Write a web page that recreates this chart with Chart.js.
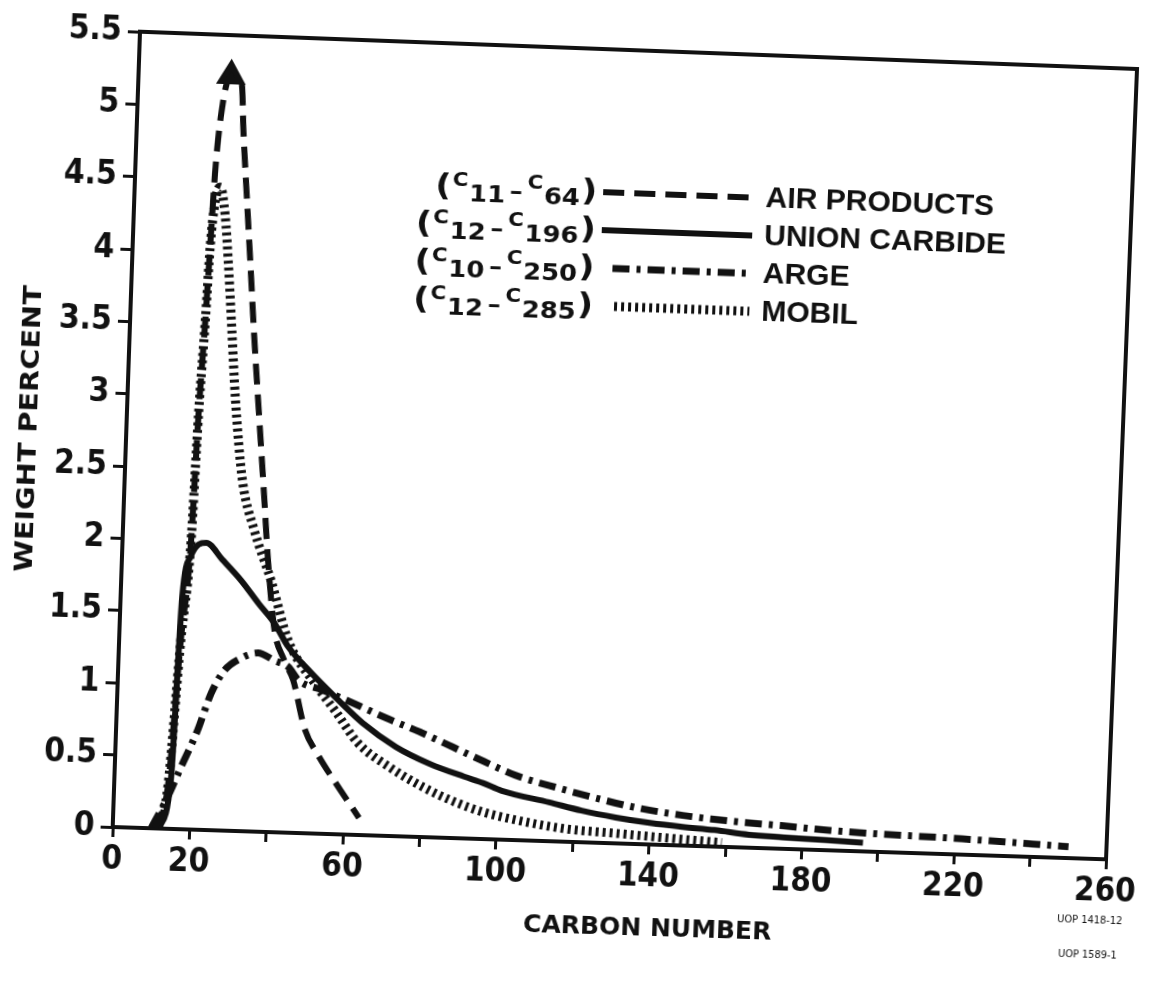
<!DOCTYPE html>
<html>
<head>
<meta charset="utf-8">
<title>Weight percent by carbon number</title>
<script src="https://cdn.jsdelivr.net/npm/chart.js@4.4.1/dist/chart.umd.min.js"></script>
<style>
    html, body { margin: 0; padding: 0; background: #fff; overflow: hidden; }
    #chart { position: absolute; left: 0; top: 0; transform-origin: 0 0; }
</style>
</head>
<body>
<canvas id="chart" width="1152" height="988"></canvas>
<script>
// Series data (carbon number, weight percent)
const apX = [11, 14, 16, 17.8, 18.6, 19.5, 20.1, 20.7, 22.1, 24, 26.8, 27.7, 29.2, 30.7, 32.2, 34.3, 36.4, 37.9, 40.3, 43, 45.6, 49.1, 52.9, 57.5, 64];
const apY = [0, 0.3, 1.3, 2.0, 2.88, 3.52, 4.03, 4.54, 5.03, 5.22, 5.17, 4.84, 4.38, 3.93, 3.47, 2.89, 2.32, 1.9, 1.4, 1.2, 1.06, 0.72, 0.54, 0.36, 0.12];

const ucX = [12, 14.7, 16, 17.8, 21.8, 26, 31.1, 36, 40.2, 44, 50, 57.6, 64, 73, 82, 91, 96, 101, 113.5, 122, 131, 140, 148.6, 157, 166, 175, 186, 196];
const ucY = [0, 0.34, 1.61, 1.89, 1.99, 1.88, 1.74, 1.58, 1.45, 1.29, 1.12, 0.93, 0.78, 0.62, 0.51, 0.43, 0.39, 0.34, 0.27, 0.22, 0.18, 0.15, 0.13, 0.115, 0.09, 0.08, 0.07, 0.06];

const arX = [10, 14, 17.2, 21.2, 24.4, 27.6, 31.9, 36.2, 40.6, 44.2, 47, 53, 60, 70, 79, 88, 96, 104.5, 116, 125.7, 137, 148.5, 161.6, 175, 183.5, 195, 222, 250];
const arY = [0, 0.22, 0.43, 0.69, 0.95, 1.11, 1.2, 1.24, 1.19, 1.15, 1.06, 1.0, 0.93, 0.82, 0.73, 0.63, 0.54, 0.45, 0.37, 0.31, 0.25, 0.21, 0.18, 0.16, 0.145, 0.13, 0.11, 0.08];

const moX = [12, 14, 16, 17.8, 18.6, 19.5, 20.1, 21, 22.2, 23.7, 25, 26.5, 28, 30.6, 34.1, 39, 44, 51.3, 57, 63, 72, 81, 89, 96, 105, 118, 131, 144, 159];
const moY = [0, 0.3, 1.3, 2.0, 2.88, 3.52, 4.03, 4.35, 4.45, 4.26, 3.92, 3.46, 3.0, 2.43, 2.09, 1.74, 1.33, 1.04, 0.85, 0.64, 0.47, 0.34, 0.25, 0.19, 0.14, 0.09, 0.07, 0.05, 0.03];

const seriesNames = ['AIR PRODUCTS', 'UNION CARBIDE', 'ARGE', 'MOBIL'];
const seriesRanges = [['11', '64'], ['12', '196'], ['10', '250'], ['12', '285']];

// Axis ticks
const xTickValues = [0, 20, 40, 60, 80, 100, 120, 140, 160, 180, 200, 220, 240, 260];
const xTickLabels = [0, 20, 60, 100, 140, 180, 220, 260];
const yTickValues = [0, 0.5, 1, 1.5, 2, 2.5, 3, 3.5, 4, 4.5, 5, 5.5];

const INK = '#111';
const NARROW = '"Liberation Sans Narrow", "DejaVu Sans Condensed", sans-serif';

function toPoints(xs, ys) {
    return xs.map((x, i) => ({ x: x, y: ys[i] }));
}

const apPeak = apY.indexOf(Math.max(...apY));

// "(C11 - C64)" style range label, right aligned
function drawRange(ctx, xRight, yMid, range) {
    const parts = [
        ['(', 31, 9, 0],
        ['C', 19, -1, 1],
        [range[0], 23, 14, 1],
        ['\u2013', 23, 10, 4],
        ['C', 19, -1, 4],
        [range[1], 23, 14, 1],
        [')', 31, 9, 1]
    ];
    const widths = parts.map(p => {
        ctx.font = 'bold ' + p[1] + 'px "DejaVu Sans"';
        return ctx.measureText(p[0]).width;
    });
    let total = 0;
    parts.forEach((p, i) => { total += widths[i] + p[3]; });
    const sx = 1.12;
    ctx.save();
    ctx.translate(xRight - total * sx, 0);
    ctx.scale(sx, 1);
    ctx.textAlign = 'left';
    ctx.textBaseline = 'alphabetic';
    let x = 0;
    parts.forEach((p, i) => {
        x += p[3];
        ctx.font = 'bold ' + p[1] + 'px "DejaVu Sans"';
        ctx.fillText(p[0], x, yMid + p[2]);
        x += widths[i];
    });
    ctx.restore();
}

// Legend, axis titles and page stamps
const annotations = {
    id: 'annotations',
    afterDraw(chart) {
        const ctx = chart.ctx;
        const area = chart.chartArea;
        ctx.save();
        ctx.fillStyle = INK;
        ctx.strokeStyle = INK;

        const rowHeights = [653, 615, 577, 539];
        const lineStarts = [465, 465, 477, 480];
        chart.data.datasets.forEach((ds, i) => {
            const y = area.bottom - rowHeights[i];
            drawRange(ctx, area.left + 459, y, seriesRanges[i]);
            ctx.save();
            ctx.lineWidth = ds.borderWidth;
            ctx.setLineDash(ds.borderDash || []);
            ctx.lineCap = 'butt';
            ctx.beginPath();
            ctx.moveTo(area.left + lineStarts[i], y);
            ctx.lineTo(area.left + 615, y);
            ctx.stroke();
            ctx.restore();
            ctx.font = 'bold 30px "Liberation Sans", Arial, sans-serif';
            ctx.textAlign = 'left';
            ctx.textBaseline = 'middle';
            ctx.fillText(ds.label, area.left + 627, y + 1);
        });

        ctx.font = 'bold 25px "DejaVu Sans"';
        ctx.textAlign = 'center';
        ctx.textBaseline = 'middle';
        ctx.fillText('CARBON NUMBER', area.left + 536, area.bottom + 85);

        ctx.save();
        ctx.translate(area.left - 96, area.bottom - 396);
        ctx.rotate(-Math.PI / 2);
        ctx.scale(1.15, 1);
        ctx.fillText('WEIGHT PERCENT', 0, 0);
        ctx.restore();

        ctx.font = '11px ' + NARROW;
        ctx.fillText('UOP 1418-12', area.left + 979, area.bottom + 62);
        ctx.fillText('UOP 1589-1', area.left + 978, area.bottom + 97);
        ctx.restore();
    }
};

const lineStyle = {
    borderColor: INK,
    borderCapStyle: 'butt',
    pointRadius: 0,
    fill: false,
    cubicInterpolationMode: 'monotone'
};

const ctx = document.getElementById('chart').getContext('2d');
const chart = new Chart(ctx, {
    type: 'line',
    data: {
        datasets: [
            Object.assign({}, lineStyle, {
                label: seriesNames[0],
                data: toPoints(apX, apY),
                borderWidth: 6,
                borderDash: [21, 10],
                pointRadius: apY.map((v, i) => i === apPeak ? 11 : 0),
                pointStyle: 'triangle',
                pointBackgroundColor: INK,
                pointBorderColor: INK
            }),
            Object.assign({}, lineStyle, {
                label: seriesNames[1],
                data: toPoints(ucX, ucY),
                borderWidth: 6
            }),
            Object.assign({}, lineStyle, {
                label: seriesNames[2],
                data: toPoints(arX, arY),
                borderWidth: 7,
                borderDash: [17, 7, 4, 7]
            }),
            Object.assign({}, lineStyle, {
                label: seriesNames[3],
                data: toPoints(moX, moY),
                borderWidth: 9,
                borderDash: [3, 4]
            })
        ]
    },
    options: {
        responsive: false,
        animation: false,
        layout: { padding: { left: 44, right: 34, top: 48, bottom: 84 } },
        plugins: {
            legend: { display: false },
            tooltip: { enabled: false }
        },
        scales: {
            x: {
                type: 'linear',
                position: 'bottom',
                min: 0,
                max: 260,
                afterFit: (scale) => { scale.height = 60; },
                afterBuildTicks: (scale) => { scale.ticks = xTickValues.map(v => ({ value: v })); },
                grid: { display: true, drawOnChartArea: false, tickLength: 10, lineWidth: 3, color: INK },
                border: { display: true, width: 4, color: INK },
                ticks: {
                    autoSkip: false,
                    maxRotation: 0,
                    padding: 4,
                    color: INK,
                    font: { family: NARROW, size: 33, weight: 'bold' },
                    callback: (v) => xTickLabels.includes(v) ? String(v) : ''
                }
            },
            y: {
                type: 'linear',
                position: 'left',
                min: 0,
                max: 5.5,
                afterFit: (scale) => { scale.width = 80; },
                afterBuildTicks: (scale) => { scale.ticks = yTickValues.map(v => ({ value: v })); },
                grid: { display: true, drawOnChartArea: false, tickLength: 12, lineWidth: 3, color: INK },
                border: { display: true, width: 4, color: INK },
                ticks: {
                    padding: 6,
                    color: INK,
                    font: { family: NARROW, size: 33, weight: 'bold' },
                    callback: (v) => String(v)
                }
            },
            xTop: {
                type: 'linear',
                position: 'top',
                min: 0,
                max: 260,
                afterFit: (scale) => { scale.height = 0; },
                grid: { display: false },
                border: { display: true, width: 4, color: INK },
                ticks: { display: false }
            },
            yRight: {
                type: 'linear',
                position: 'right',
                min: 0,
                max: 5.5,
                afterFit: (scale) => { scale.width = 0; },
                grid: { display: false },
                border: { display: true, width: 4, color: INK },
                ticks: { display: false }
            }
        }
    },
    plugins: [annotations]
});

// Scanned page is slightly skewed: map the plot frame onto the scanned frame corners
function homography(src, dst) {
    const A = [], b = [];
    for (let i = 0; i < 4; i++) {
        const x = src[i][0], y = src[i][1], X = dst[i][0], Y = dst[i][1];
        A.push([x, y, 1, 0, 0, 0, -X * x, -X * y]); b.push(X);
        A.push([0, 0, 0, x, y, 1, -Y * x, -Y * y]); b.push(Y);
    }
    for (let c = 0; c < 8; c++) {
        let p = c;
        for (let r = c + 1; r < 8; r++) if (Math.abs(A[r][c]) > Math.abs(A[p][c])) p = r;
        [A[c], A[p]] = [A[p], A[c]];
        [b[c], b[p]] = [b[p], b[c]];
        for (let r = 0; r < 8; r++) {
            if (r === c) continue;
            const f = A[r][c] / A[c][c];
            for (let k = c; k < 8; k++) A[r][k] -= f * A[c][k];
            b[r] -= f * b[c];
        }
    }
    return b.map((v, i) => v / A[i][i]);
}

const a = chart.chartArea;
const h = homography(
    [[a.left, a.top], [a.right, a.top], [a.right, a.bottom], [a.left, a.bottom]],
    [[140, 31.7], [1137, 69], [1106, 859.3], [112.7, 827]]
);
chart.canvas.style.transform = 'matrix3d(' + [h[0], h[3], 0, h[6], h[1], h[4], 0, h[7], 0, 0, 1, 0, h[2], h[5], 0, 1].join(',') + ')';
</script>
</body>
</html>
